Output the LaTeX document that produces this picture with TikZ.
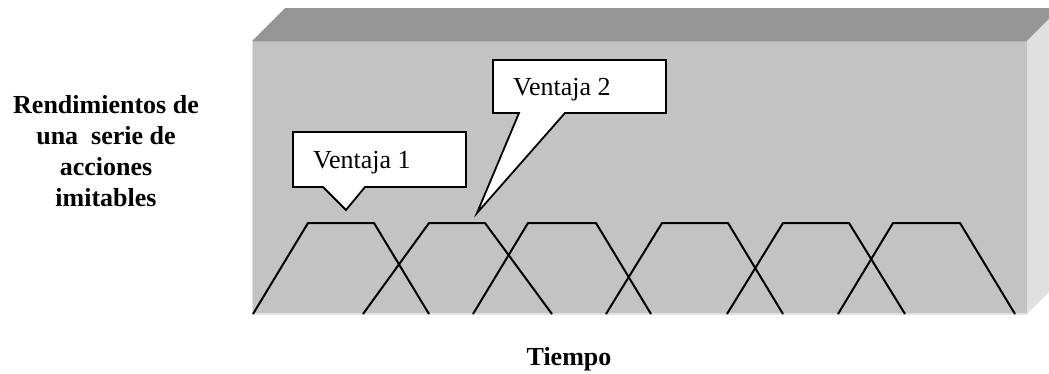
\documentclass[tikz,border=0pt]{standalone}
\usepackage{fontspec}
\setmainfont{Liberation Serif}
\definecolor{topface}{HTML}{969696}
\definecolor{frontface}{HTML}{C3C3C3}
\definecolor{sideface}{HTML}{E0E0E0}
\begin{document}
\begin{tikzpicture}[x=1bp,y=-1bp,
  trap/.style={line width=2bp, line join=miter},
  callout/.style={fill=white, draw=black, line width=1.8bp, line join=miter},
  lbl/.style={font=\fontsize{26bp}{31bp}\selectfont, inner sep=0pt},
  blbl/.style={font=\fontsize{26bp}{31bp}\selectfont\bfseries, inner sep=0pt, align=center}]
\useasboundingbox (0,0) rectangle (1049,373);
% block
\fill[topface] (252,41) -- (285,8) -- (1060,8) -- (1027,41) -- cycle;
\fill[sideface] (1027,41) -- (1060,8) -- (1060,281) -- (1027,314) -- cycle;
\fill[frontface] (252,41) rectangle (1027,314);
\draw[color=black!30, line width=1bp] (252,41.5) -- (1027,41.5);
\draw[color=white!50!frontface, line width=1.2bp] (252.6,41) -- (252.6,314) -- (1027,314);
% trapezoids
\draw[trap] (253,314) -- (308,223) -- (374,223) -- (429,314);
\draw[trap] (363,314) -- (429,223) -- (485,223) -- (552,314);
\draw[trap] (473,314) -- (528,223) -- (596,223) -- (651,314);
\draw[trap] (606,314) -- (662,223) -- (728,223) -- (783,314);
\draw[trap] (727,314) -- (783,223) -- (849,223) -- (905,314);
\draw[trap] (838,314) -- (893,223) -- (960,223) -- (1015,314);
% callout 1
\draw[callout] (293,132) -- (466,132) -- (466,187) -- (365,187) -- (346,210) -- (323,187) -- (293,187) -- cycle;
\node[lbl, anchor=base west] (v1) at (313,168) {Ventaja 1};
% callout 2
\draw[callout] (493,60) -- (666,60) -- (666,113) -- (565,113) -- (477,213) -- (519,113) -- (493,113) -- cycle;
\node[lbl, anchor=base west] (v2) at (513,95) {Ventaja 2};
% labels
\node[blbl] (rend) at (106,151) {Rendimientos de\\una \ serie de\\acciones\\imitables};
\node[blbl, anchor=base] (tiempo) at (569,365) {Tiempo};
\end{tikzpicture}
\end{document}
